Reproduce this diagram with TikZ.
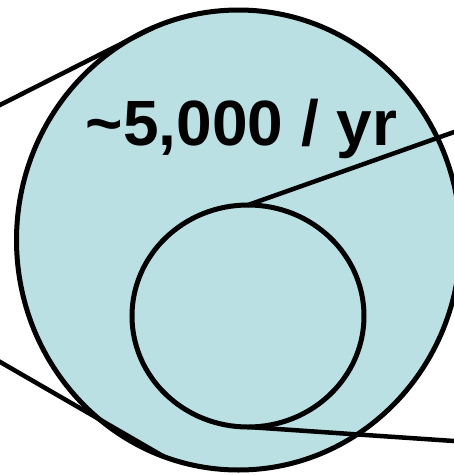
\documentclass[tikz,border=0pt]{standalone}
\usepackage{fontspec}
\setmainfont{Liberation Sans}
\usetikzlibrary{shapes.geometric}
\definecolor{ringfill}{RGB}{187,224,227}
\begin{document}
\begin{tikzpicture}[x=1pt,y=-1pt,
  ring/.style={ellipse, draw=black, line width=5pt, outer sep=0pt, inner sep=0pt},
  conn/.style={draw=black, line width=4.5pt, line cap=round}]
\useasboundingbox (0,0) rectangle (454,475);
\clip (0,0) rectangle (454,475);
\node[ring, fill=ringfill, minimum width=444pt, minimum height=460pt] (big) at (238.5,240) {};
\node[ring, minimum width=232pt, minimum height=222pt] (inner) at (248,316) {};
\coordinate (tl) at (-5,107.5);
\coordinate (bl) at (-5,359);
\coordinate (tr) at (470,126.4);
\coordinate (br) at (470,442.1);
\draw[conn] (tl) -- (big.112);
\draw[conn] (bl) -- (big.251);
\draw[conn] (inner.north) -- (tr);
\draw[conn] (inner.south) -- (br);
\node[anchor=base, inner sep=0pt, font=\bfseries\fontsize{64}{64}\selectfont] (rate) at (241.5,145) {\char"007E 5,000 / yr};
\end{tikzpicture}
\end{document}
